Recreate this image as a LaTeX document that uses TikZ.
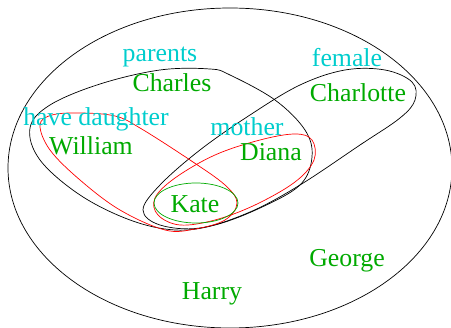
\documentclass[tikz,border=0pt]{standalone}
\usepackage{fontspec}
\setmainfont{Liberation Serif}
\definecolor{nmgreen}{RGB}{0,170,0}
\definecolor{lbcyan}{RGB}{0,205,205}
\begin{document}
\begin{tikzpicture}[x=1pt,y=-1pt,
  line width=0.7pt,
  namestyle/.style={text=nmgreen,anchor=base,inner sep=0pt,font=\fontsize{25.8}{30}\selectfont},
  labelstyle/.style={text=lbcyan,anchor=base,inner sep=0pt,font=\fontsize{25.8}{30}\selectfont}]
\useasboundingbox (0,0) rectangle (451,328);
% universe
\draw (230,168) ellipse [x radius=222, y radius=160];
% parents
\draw plot[smooth cycle, tension=0.6] coordinates {(30,128) (50,105) (100,84) (160,70) (210,69) (230,75) (275,100) (305,130) (312,157) (300,185) (260,208) (215,225) (175,230) (130,220) (80,195) (40,160)};
% female
\draw plot[smooth cycle, tension=0.6] coordinates {(143,210) (160,185) (200,150) (250,115) (300,85) (345,70) (385,70) (412,82) (415,100) (400,118) (360,145) (300,185) (250,212) (200,228) (160,225)};
% have daughter
\draw[red] plot[smooth cycle, tension=0.6] coordinates {(40,125) (52,115) (80,113) (115,116) (140,128) (190,160) (225,185) (237,203) (225,220) (195,229) (165,230) (120,210) (80,180) (50,150)};
% mother
\draw[red] plot[smooth cycle, tension=0.6] coordinates {(155,198) (175,178) (215,155) (260,140) (295,134) (312,140) (314,160) (295,182) (255,205) (215,220) (180,225) (158,215)};
% Kate
\draw[nmgreen] (196,203) ellipse [x radius=42, y radius=20];
% labels
\node[labelstyle] (parents) at (160,62) {parents};
\node[labelstyle] (female) at (347,67) {female};
\node[labelstyle] (havedaughter) at (96,126) {have daughter};
\node[labelstyle] (mother) at (247,136) {mother};
\node[namestyle] (charles) at (172,92) {Charles};
\node[namestyle] (charlotte) at (358,102) {Charlotte};
\node[namestyle] (william) at (91,155) {William};
\node[namestyle] (diana) at (271,161) {Diana};
\node[namestyle] (kate) at (195,213) {Kate};
\node[namestyle] (george) at (347,267) {George};
\node[namestyle] (harry) at (212,300) {Harry};
\end{tikzpicture}
\end{document}
